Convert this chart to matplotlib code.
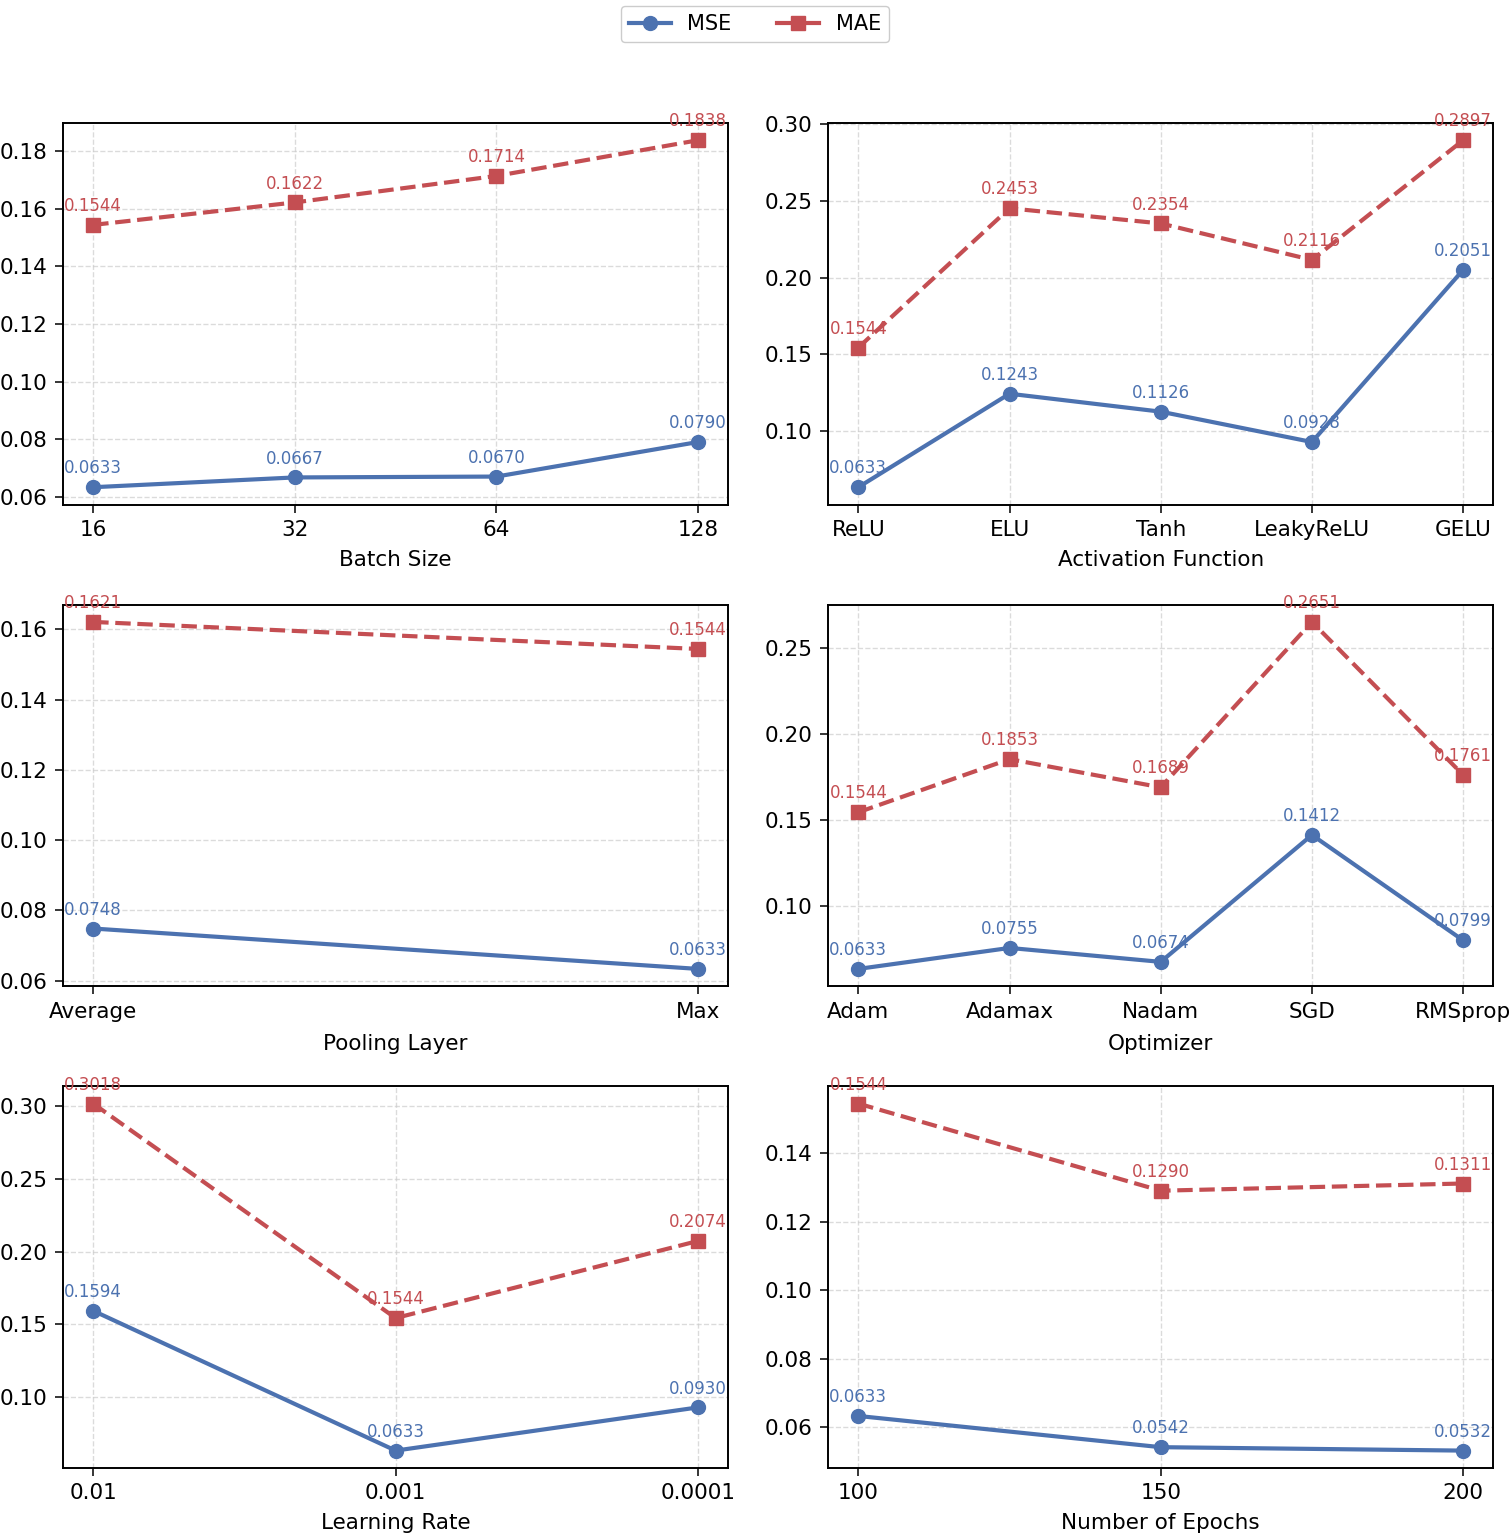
import matplotlib
matplotlib.use("Agg")
from matplotlib import pyplot as plt
from matplotlib.lines import Line2D
from matplotlib.ticker import MultipleLocator

# data
batch = ["16", "32", "64", "128"]
batch_mse = [0.0633, 0.0667, 0.0670, 0.0790]
batch_mae = [0.1544, 0.1622, 0.1714, 0.1838]

act = ["ReLU", "ELU", "Tanh", "LeakyReLU", "GELU"]
act_mse = [0.0633, 0.1243, 0.1126, 0.0928, 0.2051]
act_mae = [0.1544, 0.2453, 0.2354, 0.2116, 0.2897]

pool = ["Average", "Max"]
pool_mse = [0.0748, 0.0633]
pool_mae = [0.1621, 0.1544]

opt = ["Adam", "Adamax", "Nadam", "SGD", "RMSprop"]
opt_mse = [0.0633, 0.0755, 0.0674, 0.1412, 0.0799]
opt_mae = [0.1544, 0.1853, 0.1689, 0.2651, 0.1761]

lr = ["0.01", "0.001", "0.0001"]
lr_mse = [0.1594, 0.0633, 0.0930]
lr_mae = [0.3018, 0.1544, 0.2074]

epochs = ["100", "150", "200"]
ep_mse = [0.0633, 0.0542, 0.0532]
ep_mae = [0.1544, 0.1290, 0.1311]

blue = "#4C72B0"
red = "#C44E52"

panels = [
    (batch, batch_mse, batch_mae, "Batch Size", 0.02),
    (act, act_mse, act_mae, "Activation Function", 0.05),
    (pool, pool_mse, pool_mae, "Pooling Layer", 0.02),
    (opt, opt_mse, opt_mae, "Optimizer", 0.05),
    (lr, lr_mse, lr_mae, "Learning Rate", 0.05),
    (epochs, ep_mse, ep_mae, "Number of Epochs", 0.02),
]

fig, axs = plt.subplots(3, 2, figsize=(15.1, 15.36), dpi=100)
plt.subplots_adjust(left=0.0417, right=0.989, bottom=0.0443, top=0.920,
                    wspace=0.15, hspace=0.262)

for i, (ax, (cats, mse, mae, label, step)) in enumerate(zip(axs.flat, panels)):
    x = list(range(len(cats)))
    ax.plot(x, mse, color=blue, marker="o", markersize=10, linewidth=3)
    ax.plot(x, mae, color=red, marker="s", markersize=9.5, linewidth=3, linestyle="--")
    for xi, v in zip(x, mse):
        ax.annotate("%.4f" % v, (xi, v), xytext=(0, 10), textcoords="offset points",
                    ha="center", fontsize=12, color=blue, annotation_clip=False)
    for xi, v in zip(x, mae):
        ax.annotate("%.4f" % v, (xi, v), xytext=(0, 10), textcoords="offset points",
                    ha="center", fontsize=12, color=red, annotation_clip=False)
    ax.set_xticks(x)
    ax.set_xticklabels(cats)
    ax.yaxis.set_major_locator(MultipleLocator(step))
    ax.yaxis.set_major_formatter(plt.FormatStrFormatter("%.2f"))
    ax.set_xlabel(label, fontsize=15.5, labelpad=9 if i in (2, 3) else 7)
    ax.tick_params(labelsize=15.5, length=6, width=1.1, pad=5)
    ax.grid(True, linestyle="--", color="#cccccc", alpha=0.7, linewidth=1)
    for s in ax.spines.values():
        s.set_linewidth(1.4)

h1 = Line2D([], [], color=blue, marker="o", markersize=10, linewidth=3)
h2 = Line2D([], [], color=red, marker="s", markersize=9.5, linewidth=3)
fig.legend([h1, h2], ["MSE", "MAE"], loc="upper center", bbox_to_anchor=(0.5, 1.003),
           ncol=2, fontsize=15, handlelength=2, columnspacing=2.2, framealpha=1)

fig.savefig("out.png", dpi=100)
